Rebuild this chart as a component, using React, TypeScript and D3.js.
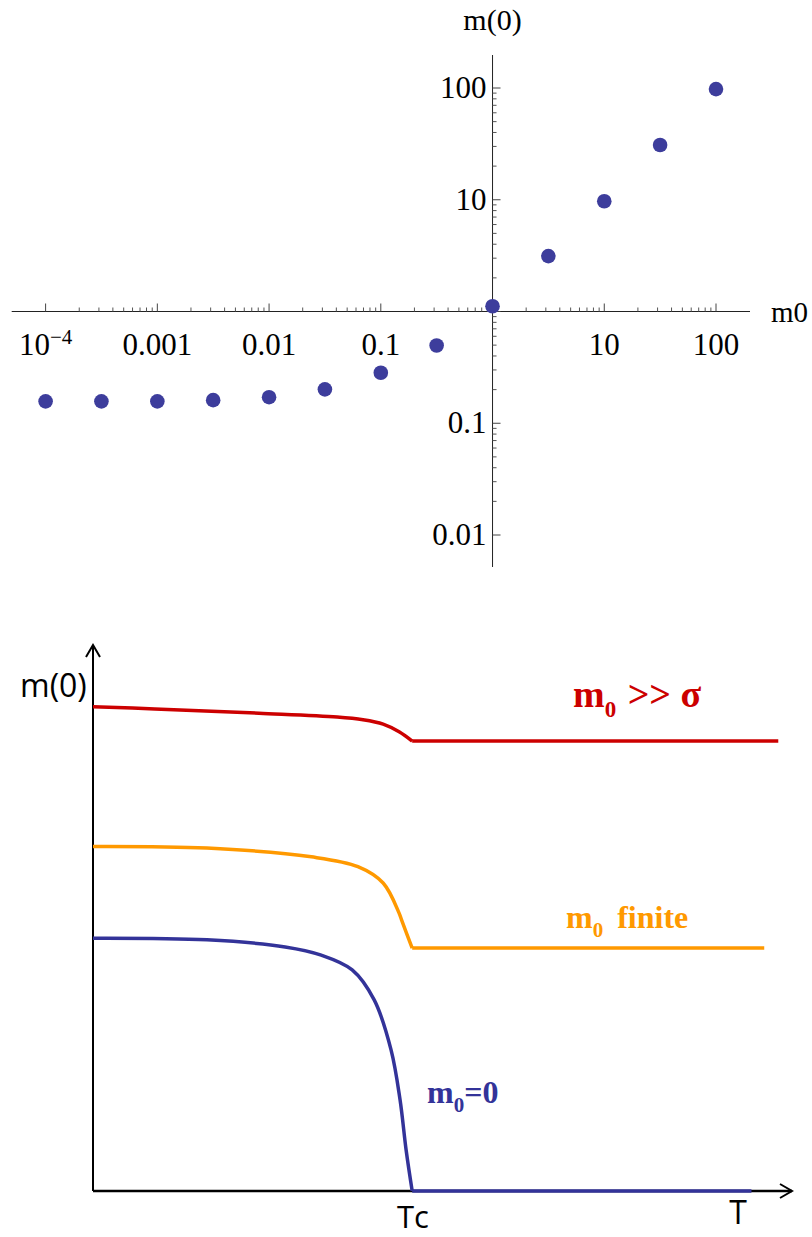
import React from 'react';
import * as d3 from 'd3';

// top panel: m(0) against m0, log-log
const m0Values = [1e-4, 3.16e-4, 1e-3, 3.16e-3, 0.01, 0.0316, 0.1, 0.316, 1, 3.16, 10, 31.6, 100];
const m0Response = [0.157, 0.157, 0.157, 0.161, 0.171, 0.201, 0.283, 0.496, 1.115, 3.13, 9.7, 30.9, 97.8];
const xTickValues = [1e-4, 1e-3, 0.01, 0.1, 1, 10, 100];
const xTickLabels = ['10^-4', '0.001', '0.01', '0.1', '', '10', '100'];
const yTickValues = [0.01, 0.1, 1, 10, 100];
const yTickLabels = ['0.01', '0.1', '', '10', '100'];

// bottom panel: sketch of m(0) against T (T in units of Tc)
const Tc = 1;
const tRed = [0, 0.194, 0.52, 0.765, 0.846, 0.909, 0.959, 1.0, 2.147];
const mRed = [88.7, 88.3, 87.5, 86.8, 86.3, 85.5, 84.1, 82.4, 82.4];
const tOrange = [0, 0.357, 0.684, 0.83, 0.909, 0.959, 0.967, 1.0, 2.103];
const mOrange = [63.1, 62.8, 61.2, 59.4, 56.4, 50.9, 49.6, 44.5, 44.5];
const tBlue = [0, 0.357, 0.602, 0.715, 0.812, 0.881, 0.934, 0.962, 0.981, 1.0, 2.063];
const mBlue = [46.3, 46.0, 44.7, 43.2, 40.5, 35.0, 25.8, 16.7, 7.5, 0, 0];

const serif = '"Liberation Serif", "Times New Roman", serif';
const hand = '"Open Sans", sans-serif';

function minorTicks(lo: number, hi: number) {
  const out: number[] = [];
  for (let d = lo; d < hi; d++) {
    for (let k = 2; k <= 9; k++) out.push(k * Math.pow(10, d));
  }
  return out;
}

function TopPanel() {
  const x = d3.scaleLog().domain([1e-4, 100]).range([45.6, 716]);
  const y = d3.scaleLog().domain([0.01, 100]).range([535, 88]);
  const x0 = x(1);
  const y0 = y(1);
  const xMinor = minorTicks(-4, 2);
  const yMinor = minorTicks(-2, 2);
  return (
    <g>
      {/* axes */}
      <line x1={11.7} x2={750} y1={y0} y2={y0} stroke="#222" strokeWidth={1} />
      <line x1={x0} x2={x0} y1={55} y2={567} stroke="#222" strokeWidth={1} />
      {xMinor.map((v, i) => (
        <line key={'xm' + i} x1={x(v)} x2={x(v)} y1={y0} y2={y0 - 4} stroke="#555" strokeWidth={1} />
      ))}
      {yMinor.map((v, i) => (
        <line key={'ym' + i} x1={x0} x2={x0 + 4} y1={y(v)} y2={y(v)} stroke="#555" strokeWidth={1} />
      ))}
      {xTickValues.map((v, i) => (
        <line key={'xt' + i} x1={x(v)} x2={x(v)} y1={y0} y2={y0 - 8} stroke="#444" strokeWidth={1} />
      ))}
      {yTickValues.map((v, i) => (
        <line key={'yt' + i} x1={x0} x2={x0 + 8} y1={y(v)} y2={y(v)} stroke="#444" strokeWidth={1} />
      ))}
      {xTickValues.map((v, i) => {
        const lab = xTickLabels[i];
        if (!lab) return null;
        if (lab.includes('^')) {
          const [b, e] = lab.split('^');
          return (
            <text key={'xl' + i} x={x(v)} y={355} textAnchor="middle" fontFamily={serif} fontSize={31}>
              <tspan>{b}</tspan>
              <tspan fontSize={21} dy={-11}>{e.replace('-', '\u2212')}</tspan>
            </text>
          );
        }
        return (
          <text key={'xl' + i} x={x(v)} y={355} textAnchor="middle" fontFamily={serif} fontSize={31}>
            {lab}
          </text>
        );
      })}
      {yTickValues.map((v, i) =>
        yTickLabels[i] ? (
          <text key={'yl' + i} x={x0 - 6} y={y(v) + 10} textAnchor="end" fontFamily={serif} fontSize={31}>
            {yTickLabels[i]}
          </text>
        ) : null
      )}
      <text x={x0} y={30} textAnchor="middle" fontFamily={serif} fontSize={30}>m(0)</text>
      <text x={771} y={322} fontFamily={serif} fontSize={29}>m0</text>
      {m0Values.map((v, i) => (
        <circle key={'p' + i} cx={x(v)} cy={y(m0Response[i])} r={7.3} fill="#3d3d9c" />
      ))}
    </g>
  );
}

function BottomPanel() {
  const x = d3.scaleLinear().domain([0, 2.19]).range([93, 792]);
  const y = d3.scaleLinear().domain([0, 100]).range([1191, 645]);
  const curved = d3.line<[number, number]>().x(d => x(d[0])).y(d => y(d[1])).curve(d3.curveCatmullRom.alpha(0.5));
  const straight = d3.line<[number, number]>().x(d => x(d[0])).y(d => y(d[1]));
  const series = [
    { t: tRed, m: mRed, color: '#cc0000' },
    { t: tOrange, m: mOrange, color: '#ff9900' },
    { t: tBlue, m: mBlue, color: '#333399' },
  ];
  return (
    <g>
      {/* axes with open arrow heads */}
      <line x1={x(0)} x2={x(0)} y1={y(0)} y2={645} stroke="#000" strokeWidth={2} />
      <path d="M86,657 L93,645 L100,657" fill="none" stroke="#000" strokeWidth={2} />
      <line x1={x(0)} x2={792} y1={y(0)} y2={y(0)} stroke="#000" strokeWidth={2.5} />
      <path d="M780,1184 L792,1191 L780,1198" fill="none" stroke="#000" strokeWidth={2} />
      {series.map((s, i) => {
        const pts = s.t.map((t, j) => [t, s.m[j]] as [number, number]);
        const before = pts.filter(p => p[0] <= Tc);
        const after = pts.filter(p => p[0] >= Tc);
        return (
          <g key={i} fill="none" stroke={s.color} strokeWidth={3.5} strokeLinejoin="round">
            <path d={curved(before) || ''} />
            <path d={straight(after) || ''} />
          </g>
        );
      })}
      <text x={20} y={697} fontFamily={hand} fontSize={32}>m(0)</text>
      <text x={413} y={1228} textAnchor="middle" fontFamily={hand} fontSize={31}>Tc</text>
      <text x={738} y={1224} textAnchor="middle" fontFamily={hand} fontSize={32}>T</text>
      <text x={573} y={707} fontFamily={serif} fontWeight="bold" fontSize={38} fill="#cc0000">
        <tspan>m</tspan>
        <tspan fontSize={23} dy={10}>0</tspan>
        <tspan dy={-10} dx={2}>{' >> \u03c3'}</tspan>
      </text>
      <text x={566} y={928} fontFamily={serif} fontWeight="bold" fontSize={32} fill="#ff9900">
        <tspan>m</tspan>
        <tspan fontSize={21} dy={9}>0</tspan>
        <tspan dy={-9} dx={6}>{' finite'}</tspan>
      </text>
      <text x={427} y={1103} fontFamily={serif} fontWeight="bold" fontSize={32} fill="#333399">
        <tspan>m</tspan>
        <tspan fontSize={21} dy={9}>0</tspan>
        <tspan dy={-9}>=0</tspan>
      </text>
    </g>
  );
}

export default function App() {
  return (
    <svg
      width={812}
      height={1237}
      viewBox="0 0 812 1237"
      style={{ position: 'absolute', left: 0, top: 0, background: '#fff' }}
    >
      <rect width={812} height={1237} fill="#fff" />
      <TopPanel />
      <BottomPanel />
    </svg>
  );
}
